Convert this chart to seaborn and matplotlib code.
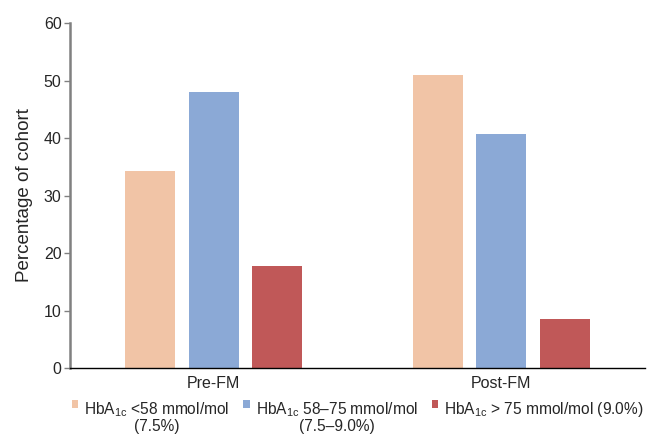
import numpy as np
import pandas as pd
import matplotlib.pyplot as plt
import seaborn as sns

sns.set_style('white')
plt.rcParams['font.family'] = ['Liberation Sans', 'DejaVu Sans']
plt.rcParams['mathtext.fontset'] = 'custom'
plt.rcParams['mathtext.rm'] = 'Liberation Sans'
plt.rcParams['mathtext.default'] = 'regular'

# data
phases = ['Pre-FM', 'Post-FM']
bands = [r'HbA$_{1c}$ <58 mmol/mol' + '\n(7.5%)',
         r'HbA$_{1c}$ 58–75 mmol/mol' + '\n(7.5–9.0%)',
         r'HbA$_{1c}$ > 75 mmol/mol (9.0%)']
pct_low = [34.3, 51.0]
pct_mid = [48.0, 40.7]
pct_high = [17.7, 8.5]
colors = ['#F1C4A6', '#8BA9D6', '#C05858']

df = pd.DataFrame({
    'phase': phases * 3,
    'band': [bands[0]] * 2 + [bands[1]] * 2 + [bands[2]] * 2,
    'pct': pct_low + pct_mid + pct_high,
})

fig = plt.figure(figsize=(6.47, 4.36), dpi=100)
ax = fig.add_axes([0.108, 0.156, 0.889, 0.791])

sns.barplot(data=df, x='phase', y='pct', hue='band', hue_order=bands,
            palette=colors, width=0.66, gap=0.21, saturation=1,
            linewidth=0, ax=ax)

ax.set_ylim(0, 60)
ax.set_xlim(-0.5, 1.5)
ax.set_yticks(range(0, 61, 10))
ax.set_ylabel('Percentage of cohort', fontsize=13.5, labelpad=8)
ax.set_xlabel('')

for s in ['top', 'right']:
    ax.spines[s].set_visible(False)
ax.spines['left'].set_color('#808080')
ax.spines['left'].set_linewidth(1.8)
ax.spines['bottom'].set_color('black')
ax.spines['bottom'].set_linewidth(1.0)

ax.tick_params(axis='y', which='both', left=True, length=4, width=1,
               color='#808080', labelsize=11.5, pad=2)
ax.tick_params(axis='x', length=0, labelsize=11.5, pad=6)

handles, labels = ax.get_legend_handles_labels()
ax.get_legend().remove()
leg = fig.legend(handles, labels, loc='upper center', bbox_to_anchor=(0.553, 0.083),
                 ncol=3, frameon=False, fontsize=11.2, handlelength=0.4,
                 handleheight=0.4, handletextpad=0.4, columnspacing=0.9,
                 borderaxespad=0, borderpad=0)
for t in leg.get_texts():
    t.set_multialignment('center')
    t.set_linespacing(1.0)
# put the small squares level with the first text line, columns top-aligned
leg._legend_handle_box.align = 'top'
for col in leg._legend_handle_box.get_children():
    for row in col.get_children():
        row.align = 'top'

fig.savefig('out.png', dpi=100)
